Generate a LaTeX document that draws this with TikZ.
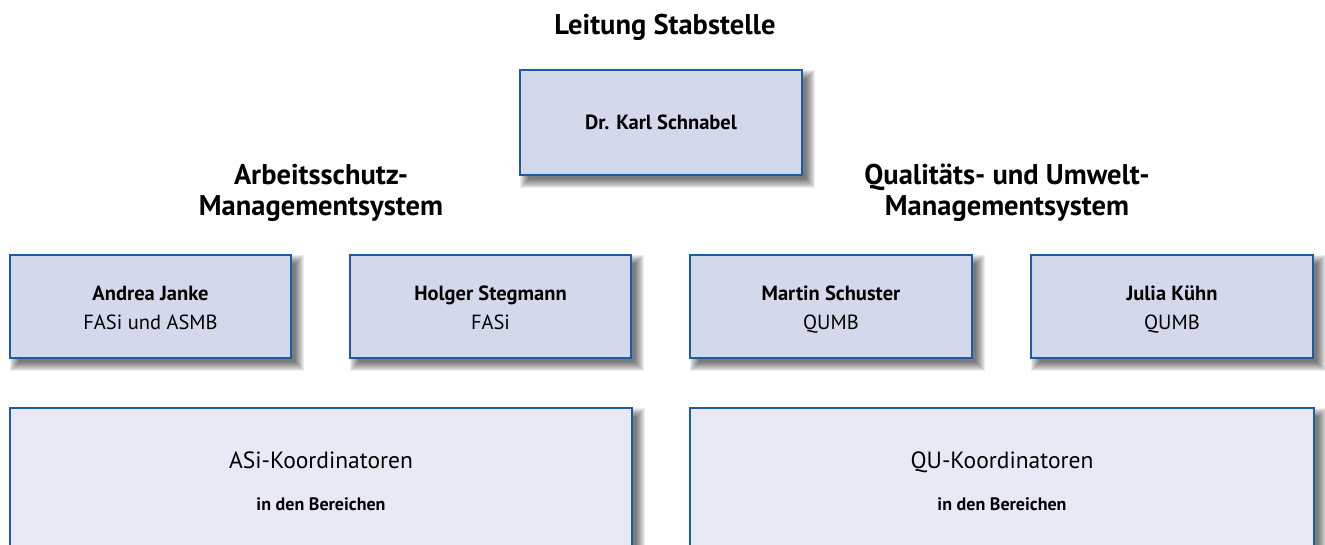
\documentclass[tikz,border=0pt]{standalone}
\usepackage{fontspec}
\setmainfont{PT Sans}
\usetikzlibrary{calc}
\definecolor{boxblue}{HTML}{1C5AA6}
\definecolor{fillA}{HTML}{D3D8EA}
\definecolor{fillB}{HTML}{E7E9F5}
\tikzset{
  x=1pt, y=-1pt,
  card/.style={draw=boxblue, line width=2pt, fill=fillA, inner sep=0pt, align=center},
  bigcard/.style={draw=boxblue, line width=2pt, fill=fillB, inner sep=0pt, align=center},
  heading/.style={font=\fontsize{28.5}{31}\selectfont\bfseries, align=center, inner sep=0pt},
  persontext/.style={font=\fontsize{20.5}{29}\selectfont, align=center, inner sep=0pt},
}
\newcommand\dropshadow[1]{%
  \foreach \r in {0,...,9}{%
    \fill[black, opacity=0.07] ($(#1.north west)+(9-\r,9-\r)$) rectangle ($(#1.south east)+(4+\r,4+\r)$);
  }%
}
\begin{document}
\begin{tikzpicture}
\useasboundingbox (0,0) rectangle (1325,545);
\clip (0,0) rectangle (1325,545);
% box outlines with shadows
\path
  (661,122.5) node[minimum width=282pt, minimum height=105pt] (g0) {}
  (150.5,306.5) node[minimum width=281pt, minimum height=103pt] (g1) {}
  (490.5,306.5) node[minimum width=281pt, minimum height=103pt] (g2) {}
  (831,306.5) node[minimum width=282pt, minimum height=103pt] (g3) {}
  (1172,306.5) node[minimum width=282pt, minimum height=103pt] (g4) {}
  (321,490) node[minimum width=622pt, minimum height=164pt] (g5) {}
  (1002,490) node[minimum width=624pt, minimum height=164pt] (g6) {};
\foreach \n in {g0,g1,g2,g3,g4,g5,g6}{\dropshadow{\n}}

\node[heading] (title) at (665,27) {Leitung Stabstelle};
\node[card, minimum width=282pt, minimum height=105pt, font=\fontsize{20.5}{24}\selectfont\bfseries] (karl) at (g0) {Dr. Karl Schnabel};

\node[heading] (asms) at (321,192.5) {Arbeitsschutz-\\Managementsystem};
\node[heading] (qums) at (1007,192.5) {Qualitäts- und Umwelt-\\Managementsystem};

\node[card, minimum width=281pt, minimum height=103pt] (janke) at (g1) {};
\node[card, minimum width=281pt, minimum height=103pt] (stegmann) at (g2) {};
\node[card, minimum width=282pt, minimum height=103pt] (schuster) at (g3) {};
\node[card, minimum width=282pt, minimum height=103pt] (kuehn) at (g4) {};
\node[persontext] (jankeT) at ($(janke)+(0,3)$) {\strut\textbf{Andrea Janke}\\\strut FASi und ASMB};
\node[persontext] (stegmannT) at ($(stegmann)+(0,3)$) {\strut\textbf{Holger Stegmann}\\\strut FASi};
\node[persontext] (schusterT) at ($(schuster)+(0,3)$) {\strut\textbf{Martin Schuster}\\\strut QUMB};
\node[persontext] (kuehnT) at ($(kuehn)+(0,3)$) {\strut\textbf{Julia Kühn}\\\strut QUMB};

\node[bigcard, minimum width=622pt, minimum height=164pt] (asi) at (g5) {};
\node[bigcard, minimum width=624pt, minimum height=164pt] (qu) at (g6) {};
\node[font=\fontsize{23.5}{27}\selectfont, inner sep=0pt] (asit) at (321,463) {\strut ASi-Koordinatoren};
\node[font=\fontsize{18}{21}\selectfont\bfseries, inner sep=0pt] (asib) at (321,506) {\strut in den Bereichen};
\node[font=\fontsize{23.5}{27}\selectfont, inner sep=0pt] (qut) at (1002,463) {\strut QU-Koordinatoren};
\node[font=\fontsize{18}{21}\selectfont\bfseries, inner sep=0pt] (qub) at (1002,506) {\strut in den Bereichen};
\end{tikzpicture}
\end{document}
